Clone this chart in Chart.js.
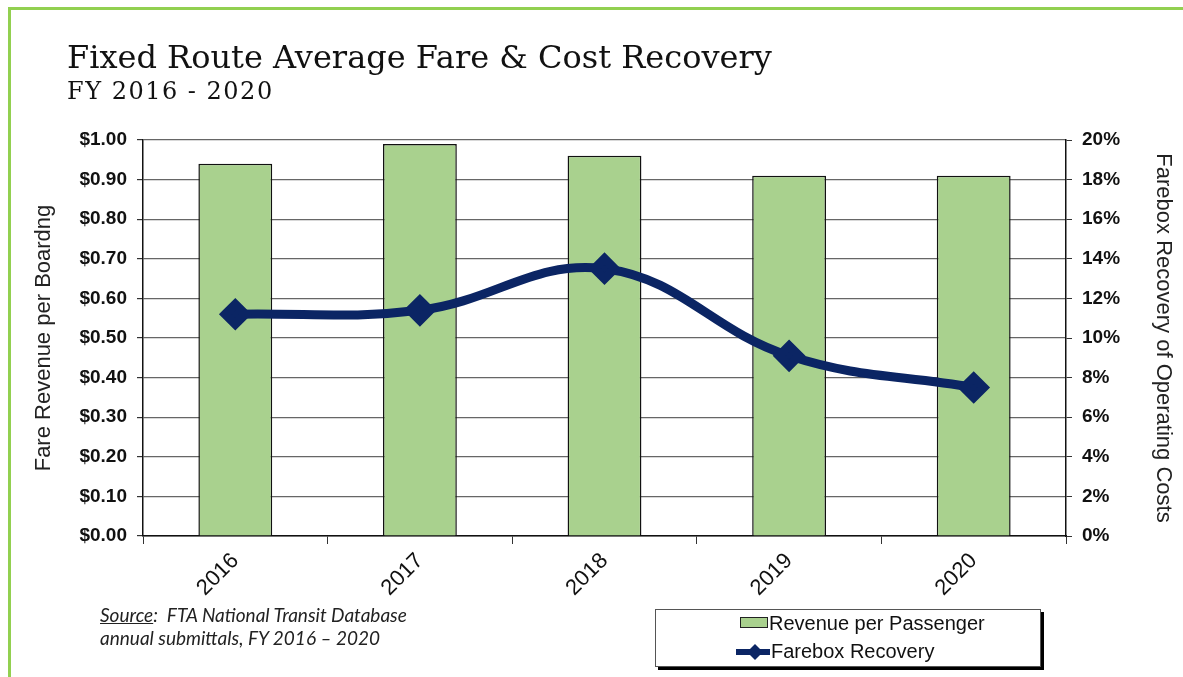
<!DOCTYPE html>
<html>
<head>
<meta charset="utf-8">
<script src="https://cdn.jsdelivr.net/npm/chart.js@4"></script>
<style>
    body { margin: 0; background: #fff; }
    #frame { position: relative; width: 1183px; height: 677px; overflow: hidden; }
    #frame::before { content: ''; position: absolute; left: 8px; top: 7px; right: 0; bottom: 0;
        border-left: 3px solid #92d050; border-top: 3px solid #92d050; }
    canvas { position: absolute; left: 0; top: 0; }
    .title { position: absolute; left: 67px; top: 38px; font-family: 'DejaVu Serif', serif; font-size: 32px; color: #111; white-space: nowrap; }
    .subtitle { position: absolute; left: 67px; top: 77px; font-family: 'DejaVu Serif', serif; font-size: 24px; letter-spacing: 1.5px; color: #111; white-space: nowrap; }
    .source { position: absolute; left: 100px; top: 603px; font-family: Lato, 'Open Sans', sans-serif; font-style: italic; font-size: 19px; line-height: 23px; color: #222; }
    .source u { text-decoration: underline; }
    .legend { position: absolute; left: 655px; top: 609px; width: 384px; height: 56px; border: 1px solid #555;
        box-shadow: 3px 3px 0 #000; background: #fff; font-family: 'Liberation Sans', Arial, sans-serif; font-size: 20px; color: #111; }
    .item { position: absolute; height: 24px; line-height: 24px; white-space: nowrap; }
    .swatch { display: inline-block; width: 26px; height: 9px; background: #a9d18e; border: 1.5px solid #222; margin-right: 1px; vertical-align: 2px; }
    .lineKey { display: inline-block; vertical-align: -2px; }
</style>
</head>
<body>
<div id="frame">
    <canvas id="myChart" width="1183" height="677"></canvas>
    <div class="title">Fixed Route Average Fare &amp; Cost Recovery</div>
    <div class="subtitle">FY 2016 - 2020</div>
    <div class="source"><u>Source</u>:&nbsp; FTA National Transit Database<br>annual submittals, FY 2016 &ndash; 2020</div>
    <div class="legend">
        <div class="item" style="top: 1px; left: 84px;"><span class="swatch"></span>Revenue per Passenger</div>
        <div class="item" style="top: 29px; left: 79px;"><svg class="lineKey" width="36" height="16"><line x1="1" y1="8" x2="35" y2="8" stroke="#0b2564" stroke-width="6"/><polygon points="20,0 28,8 20,16 12,8" fill="#0b2564"/></svg>Farebox Recovery</div>
    </div>
</div>
<script>
const years = ['2016', '2017', '2018', '2019', '2020'];
const revenuePerPassenger = [0.94, 0.99, 0.96, 0.91, 0.91];
const fareboxRecovery = [11.2, 11.4, 13.5, 9.1, 7.5];

const leftTicks = { min: 0, max: 1, step: 0.1 };
const rightTicks = { min: 0, max: 20, step: 2 };

const tickFont = { family: "'Liberation Sans', Arial, sans-serif", size: 19, weight: 'bold' };
const titleFont = { family: "'Liberation Sans', Arial, sans-serif", size: 22 };

function showChart() {
    const ctx = document.getElementById('myChart').getContext('2d');
    new Chart(ctx, {
        data: {
            labels: years,
            datasets: [{
                type: 'line',
                label: 'Farebox Recovery',
                data: fareboxRecovery,
                yAxisID: 'y1',
                borderColor: '#0b2564',
                backgroundColor: '#0b2564',
                borderWidth: 9,
                tension: 0.4,
                pointStyle: 'rectRot',
                pointRadius: 10,
                pointHoverRadius: 10,
                order: 0
            }, {
                type: 'bar',
                label: 'Revenue per Passenger',
                data: revenuePerPassenger,
                yAxisID: 'y',
                backgroundColor: '#a9d18e',
                borderColor: '#111',
                borderWidth: 1.5,
                categoryPercentage: 1,
                barPercentage: 0.4,
                order: 1
            }]
        },
        options: {
            responsive: false,
            animation: false,
            layout: { padding: { left: 20, right: 5, top: 140, bottom: 0 } },
            plugins: { legend: { display: false }, tooltip: { enabled: false } },
            scales: {
                x: {
                    offset: true,
                    grid: { offset: true, drawOnChartArea: false, color: '#333', tickLength: 8 },
                    border: { color: '#111', width: 1.5 },
                    ticks: { color: '#111', font: { family: "'Liberation Sans', Arial, sans-serif", size: 22 }, minRotation: 45, maxRotation: 45, padding: 4 },
                    afterFit: (s) => { s.height = 677 - 536; }
                },
                y: {
                    position: 'left',
                    min: leftTicks.min,
                    max: leftTicks.max,
                    grid: { color: '#666', lineWidth: 1.2, tickLength: 6, tickColor: '#333' },
                    border: { color: '#111', width: 1.5 },
                    ticks: { stepSize: leftTicks.step, color: '#111', font: tickFont, padding: 10,
                        callback: (v) => '$' + v.toFixed(2) },
                    title: { display: true, text: 'Fare Revenue per Boardng', color: '#222', font: titleFont, padding: 11 },
                    afterFit: (s) => { s.width = 143 - 20; }
                },
                y1: {
                    position: 'right',
                    min: rightTicks.min,
                    max: rightTicks.max,
                    grid: { drawOnChartArea: false, tickLength: 6, color: '#333' },
                    border: { color: '#111', width: 1.5 },
                    ticks: { stepSize: rightTicks.step, color: '#111', font: tickFont, padding: 10,
                        callback: (v) => v + '%' },
                    title: { display: true, text: 'Farebox Recovery of Operating Costs', color: '#222', font: titleFont, padding: 2 },
                    afterFit: (s) => { s.width = 1183 - 1066 - 5; }
                }
            }
        }
    });
}

document.addEventListener('DOMContentLoaded', () => {
    showChart();
});
</script>
</body>
</html>
